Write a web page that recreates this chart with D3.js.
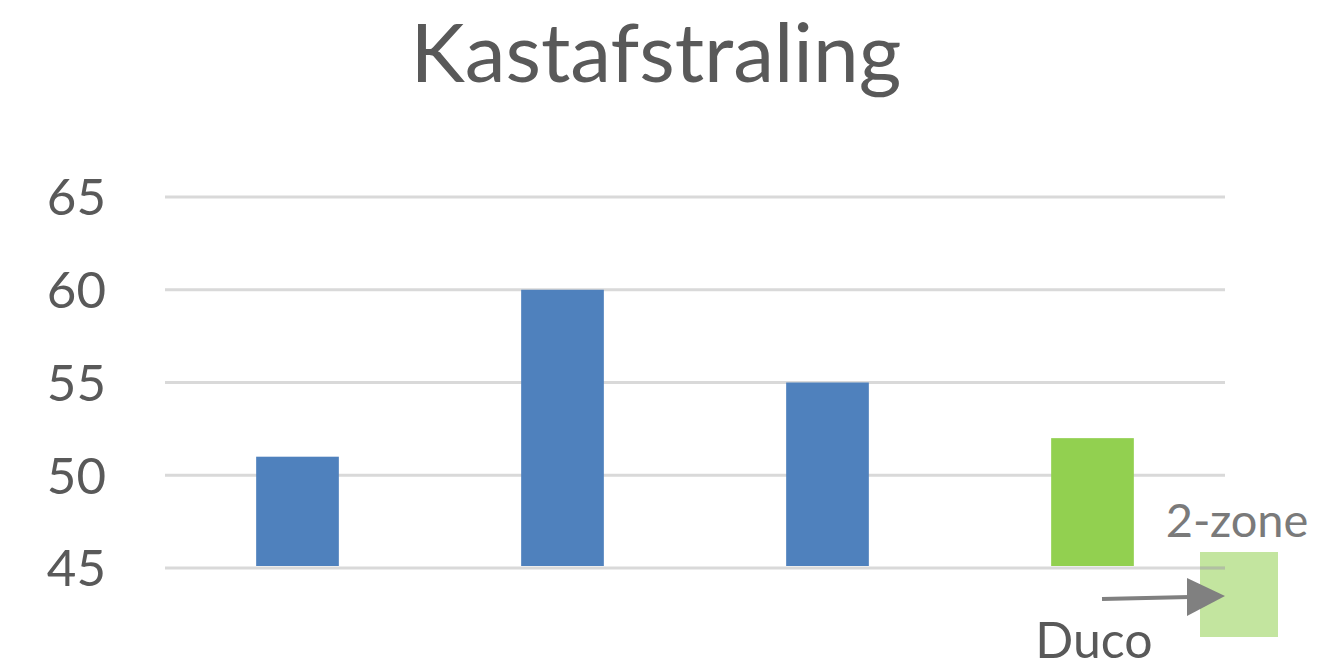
<!DOCTYPE html>
<html><head><meta charset="utf-8">
<script src="https://cdn.jsdelivr.net/npm/d3@7"></script>
<style>body{margin:0;background:#fff;}svg{display:block;}</style>
</head><body>
<svg id="c" width="1336" height="668"></svg>
<script>
const title = "Kastafstraling";
const categories = ["Optie 1", "Optie 2", "Optie 3", "Duco"];
const values = [51, 60, 55, 52];
const barColors = ["#4f81bd", "#4f81bd", "#4f81bd", "#92d050"];
const yTicks = [45, 50, 55, 60, 65];
const legendLabel = "2-zone";
const arrowLabel = "Duco";

const svg = d3.select("#c");
const font = "Lato, 'Open Sans', sans-serif";
const x = d3.scaleBand().domain(categories).range([165, 1225]).paddingInner(0.688).paddingOuter(0.344);
const y = d3.scaleLinear().domain([45, 65]).range([568, 197]);

svg.append("g").selectAll("line").data(yTicks).join("line")
  .attr("x1", 165).attr("x2", 1225)
  .attr("y1", d => y(d)).attr("y2", d => y(d))
  .attr("stroke", "#d9d9d9").attr("stroke-width", 3);

const yAxis = d3.axisLeft(y).tickValues(yTicks).tickSize(0).tickPadding(0);
const ga = svg.append("g").attr("transform", "translate(106,0)").call(yAxis);
ga.select(".domain").remove();
ga.selectAll("text").attr("font-family", font).attr("font-size", 51).attr("fill", "#595959").attr("dy", "0.35em");

svg.append("g").selectAll("rect").data(categories).join("rect")
  .attr("x", d => x(d)).attr("width", x.bandwidth())
  .attr("y", (d, i) => y(values[i])).attr("height", (d, i) => y(45) - y(values[i]) - 2)
  .attr("fill", (d, i) => barColors[i]);

svg.append("text").attr("x", 656).attr("y", 82).attr("text-anchor", "middle")
  .attr("font-family", font).attr("font-size", 82).attr("fill", "#595959").text(title);

// annotation: light green box, arrow and labels
svg.append("rect").attr("x", 1200).attr("y", 552).attr("width", 78).attr("height", 85)
  .attr("fill", "#92d050").attr("fill-opacity", 0.55);
svg.append("line").attr("x1", 1200).attr("x2", 1225).attr("y1", y(45)).attr("y2", y(45))
  .attr("stroke", "#b0b0b0").attr("stroke-width", 3).attr("stroke-opacity", 0.6);
svg.append("line").attr("x1", 1102).attr("y1", 599).attr("x2", 1190).attr("y2", 597)
  .attr("stroke", "#808080").attr("stroke-width", 4);
svg.append("path").attr("d", "M1187,578 L1225,596 L1187,616 Z").attr("fill", "#808080");
svg.append("text").attr("x", 1237).attr("y", 537).attr("text-anchor", "middle")
  .attr("font-family", font).attr("font-size", 47).attr("fill", "#7a7a7a").text(legendLabel);
svg.append("text").attr("x", 1094).attr("y", 658).attr("text-anchor", "middle")
  .attr("font-family", font).attr("font-size", 50).attr("fill", "#595959").text(arrowLabel);
</script>
</body></html>
